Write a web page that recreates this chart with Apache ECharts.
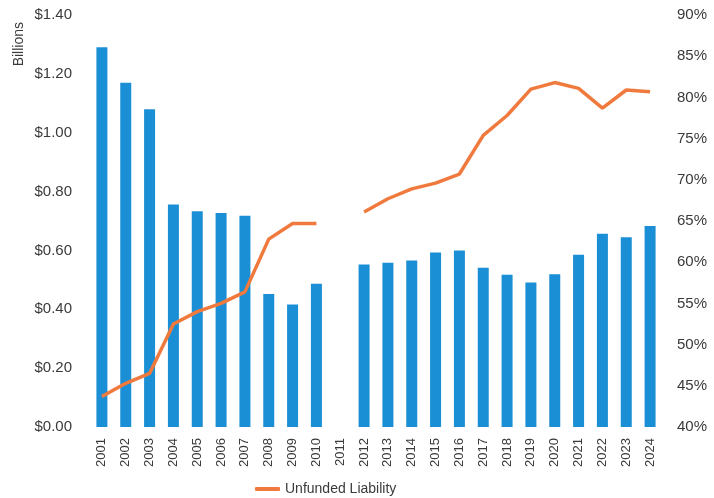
<!DOCTYPE html>
<html>
<head>
<meta charset="utf-8">
<script src="https://cdn.jsdelivr.net/npm/echarts@6/dist/echarts.min.js"></script>
<style>html,body{margin:0;padding:0;background:#fff}#c{width:714px;height:498px}</style>
</head>
<body>
<div id="c"></div>
<script>
var years = ['2001','2002','2003','2004','2005','2006','2007','2008','2009','2010','2011','2012','2013','2014','2015','2016','2017','2018','2019','2020','2021','2022','2023','2024'];
var barValues = [1.29,1.17,1.08,0.756,0.733,0.727,0.718,0.452,0.416,0.487,null,0.552,0.558,0.566,0.593,0.600,0.541,0.517,0.491,0.519,0.585,0.657,0.645,0.683];
var lineValues = [43.7,45.3,46.5,52.5,54.0,55.0,56.4,62.8,64.7,64.7,null,66.1,67.7,68.9,69.6,70.7,75.4,77.8,81.0,81.8,81.1,78.7,80.9,80.7];
var leftTicks = {min:0, max:1.4, interval:0.2};
var rightTicks = {min:40, max:90, interval:5};
var lineName = 'Unfunded Liability';

var chart = echarts.init(document.getElementById('c'), null, {renderer:'canvas'});
var txt = '#3a3a3a';
var font = 'Liberation Sans, Arial, sans-serif';
chart.setOption({
  animation:false,
  backgroundColor:'#fff',
  grid:{left:90, right:52, top:15, bottom:71, containLabel:false},
  legend:{
    data:[{name:lineName, icon:'roundRect'}],
    left:250, top:477, itemWidth:25, itemHeight:4, itemGap:10,
    textStyle:{color:txt, fontSize:14, fontFamily:font}
  },
  graphic:[{
    type:'text', left:12, top:22, rotation:Math.PI/2,
    style:{text:'Billions', fill:txt, font:'14px '+font}
  }],
  xAxis:{
    type:'category', data:years,
    axisLine:{show:false}, axisTick:{show:false},
    axisLabel:{rotate:90, margin:11, color:txt, fontSize:13, fontFamily:font, interval:0}
  },
  yAxis:[{
    type:'value', min:leftTicks.min, max:leftTicks.max, interval:leftTicks.interval,
    splitLine:{show:false}, axisLine:{show:false}, axisTick:{show:false},
    axisLabel:{margin:18, color:txt, fontSize:15, fontFamily:font, formatter:function(v){return '$'+v.toFixed(2);}}
  },{
    type:'value', min:rightTicks.min, max:rightTicks.max, interval:rightTicks.interval,
    splitLine:{show:false}, axisLine:{show:false}, axisTick:{show:false},
    axisLabel:{margin:15, color:txt, fontSize:15, fontFamily:font, formatter:function(v){return v+'%';}}
  }],
  series:[{
    name:'Bars', type:'bar', data:barValues, barWidth:11, yAxisIndex:0,
    itemStyle:{color:'#1B8FD5'}
  },{
    name:lineName, type:'line', data:lineValues, yAxisIndex:1,
    connectNulls:false, symbol:'none', z:5,
    lineStyle:{color:'#F07A3E', width:3.5},
    itemStyle:{color:'#F07A3E'}
  }]
});
</script>
</body>
</html>
